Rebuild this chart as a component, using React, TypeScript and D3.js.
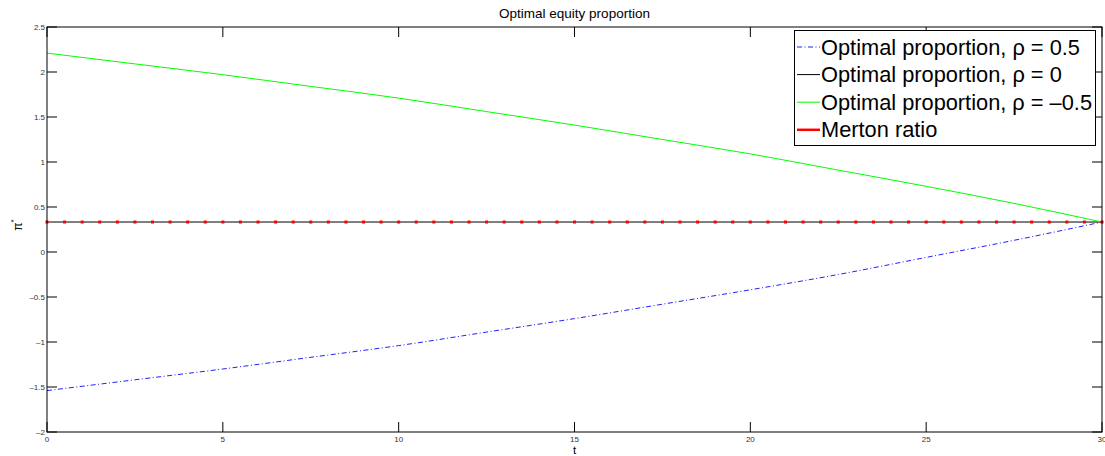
import React, { useEffect, useRef } from 'react'
import * as d3 from 'd3'

// time grid (every 2.5 years)
const tGrid = [0, 2.5, 5, 7.5, 10, 12.5, 15, 17.5, 20, 22.5, 25, 27.5, 30]
const rhoPos = [-1.54, -1.42, -1.3, -1.17, -1.04, -0.89, -0.74, -0.58, -0.42, -0.25, -0.06, 0.13, 0.333]
const rhoZero = [0.333, 0.333, 0.333, 0.333, 0.333, 0.333, 0.333, 0.333, 0.333, 0.333, 0.333, 0.333, 0.333]
const rhoNeg = [2.21, 2.09, 1.97, 1.84, 1.71, 1.56, 1.41, 1.25, 1.09, 0.91, 0.73, 0.54, 0.333]
// merton ratio markers every half year
const mertonT = d3.range(0, 30.001, 0.5)
const mertonValue = 0.333

const xTicks = [0, 5, 10, 15, 20, 25, 30]
const yTicks = [-2, -1.5, -1, -0.5, 0, 0.5, 1, 1.5, 2, 2.5]
const legendLabels = [
  'Optimal proportion, \u03c1 = 0.5',
  'Optimal proportion, \u03c1 = 0',
  'Optimal proportion, \u03c1 = \u20130.5',
  'Merton ratio'
]

const W = 1105, H = 456
const margin = { top: 27, right: 3, bottom: 24, left: 47 }

function fmt(v: number) {
  return (v < 0 ? '\u2013' : '') + String(Math.abs(v))
}

export default function App() {
  const ref = useRef<SVGSVGElement>(null)

  useEffect(() => {
    document.body.style.margin = '0'
    const svg = d3.select(ref.current)
    svg.selectAll('*').remove()
    const font = '"Liberation Sans", Arial, sans-serif'

    const x = d3.scaleLinear().domain([0, 30]).range([margin.left, W - margin.right])
    const y = d3.scaleLinear().domain([-2, 2.5]).range([H - margin.bottom, margin.top])
    const x0 = x(0), x1 = x(30), y0 = y(-2), y1 = y(2.5)

    const line = d3.line<[number, number]>().x(d => x(d[0])).y(d => y(d[1])).curve(d3.curveMonotoneX)
    const pts = (vals: number[]) => tGrid.map((t, i) => [t, vals[i]] as [number, number])

    const g = svg.append('g')

    g.append('path').attr('d', line(pts(rhoPos))).attr('fill', 'none')
      .attr('stroke', '#2020ff').attr('stroke-width', 1).attr('stroke-dasharray', '5,2.5,1,2.5')
    g.append('path').attr('d', line(pts(rhoZero))).attr('fill', 'none')
      .attr('stroke', '#000').attr('stroke-width', 1)
    g.append('path').attr('d', line(pts(rhoNeg))).attr('fill', 'none')
      .attr('stroke', '#00ff00').attr('stroke-width', 1)
    g.selectAll('.dot').data(mertonT).enter().append('rect')
      .attr('x', d => x(d) - 1.5).attr('y', y(mertonValue) - 1.5)
      .attr('width', 3).attr('height', 3).attr('fill', '#ff0000')

    // axes box
    g.append('rect').attr('x', x0).attr('y', y1).attr('width', x1 - x0).attr('height', y0 - y1)
      .attr('fill', 'none').attr('stroke', '#000').attr('stroke-width', 1)

    const tl = 10
    xTicks.forEach(t => {
      g.append('line').attr('x1', x(t)).attr('x2', x(t)).attr('y1', y0).attr('y2', y0 - tl).attr('stroke', '#000')
      g.append('line').attr('x1', x(t)).attr('x2', x(t)).attr('y1', y1).attr('y2', y1 + tl).attr('stroke', '#000')
      g.append('text').attr('x', x(t)).attr('y', y0 + 10).attr('text-anchor', 'middle')
        .attr('font-family', font).attr('font-size', 8).attr('fill', '#333').text(fmt(t))
    })
    yTicks.forEach(v => {
      g.append('line').attr('x1', x0).attr('x2', x0 + tl).attr('y1', y(v)).attr('y2', y(v)).attr('stroke', '#000')
      g.append('line').attr('x1', x1).attr('x2', x1 - tl).attr('y1', y(v)).attr('y2', y(v)).attr('stroke', '#000')
      g.append('text').attr('x', x0 - 2).attr('y', y(v) + 3).attr('text-anchor', 'end')
        .attr('font-family', font).attr('font-size', 8).attr('fill', '#333').text(fmt(v))
    })

    svg.append('text').attr('x', (x0 + x1) / 2).attr('y', 18).attr('text-anchor', 'middle')
      .attr('font-family', font).attr('font-size', 13.5).text('Optimal equity proportion')
    svg.append('text').attr('x', (x0 + x1) / 2).attr('y', 453.5).attr('text-anchor', 'middle')
      .attr('font-family', font).attr('font-size', 11.5).text('t')
    const yl = svg.append('text').attr('transform', `translate(22,${y(0.3)}) rotate(-90)`)
      .attr('text-anchor', 'middle').attr('font-family', font).attr('font-size', 12)
    yl.append('tspan').text('\u03c0')
    yl.append('tspan').attr('dy', -6).attr('font-size', 8).text('*')

    // legend
    const lg = svg.append('g')
    lg.append('rect').attr('x', 794.5).attr('y', 30.5).attr('width', 301).attr('height', 115)
      .attr('fill', '#fff').attr('stroke', '#000').attr('stroke-width', 1)
    const styles = [
      { c: '#2020ff', w: 1, dash: '5,2.5,1,2.5' },
      { c: '#000', w: 1, dash: null },
      { c: '#00ff00', w: 1, dash: null },
      { c: '#ff0000', w: 2.5, dash: null }
    ]
    legendLabels.forEach((lab, i) => {
      const cy = 47 + i * 27.6
      lg.append('line').attr('x1', 797).attr('x2', 820).attr('y1', cy).attr('y2', cy)
        .attr('stroke', styles[i].c).attr('stroke-width', styles[i].w)
        .attr('stroke-dasharray', styles[i].dash)
      lg.append('text').attr('x', 821).attr('y', cy + 7.5).attr('font-family', font)
        .attr('font-size', 21.8).attr('textLength', i === 2 ? 271 : null).text(lab)
    })
  }, [])

  return <svg ref={ref} width={W} height={H} style={{ display: 'block', background: '#fff' }} />
}
